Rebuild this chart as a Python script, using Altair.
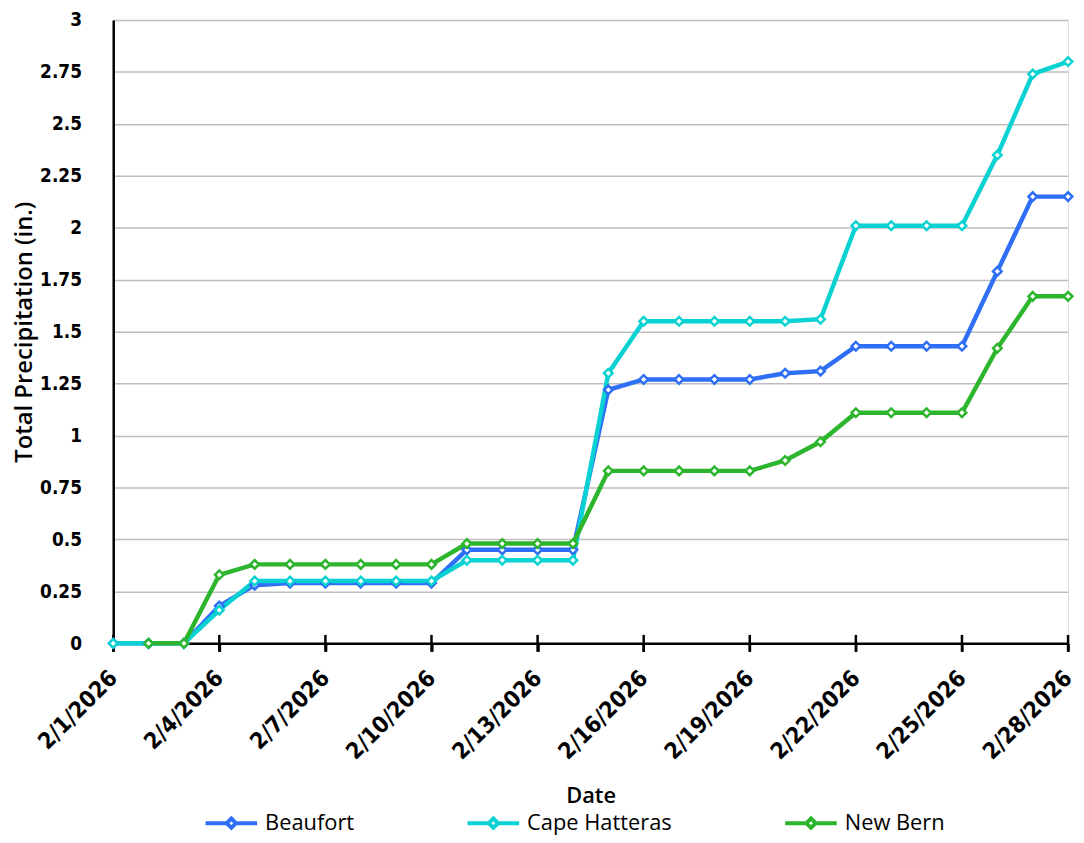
import altair as alt
import pandas as pd

days = list(range(1, 29))
beaufort = [0, 0, 0, 0.18, 0.28, 0.29, 0.29, 0.29, 0.29, 0.29, 0.45, 0.45, 0.45, 0.45,
            1.22, 1.27, 1.27, 1.27, 1.27, 1.30, 1.31, 1.43, 1.43, 1.43, 1.43, 1.79, 2.15, 2.15]
cape_hatteras = [0, 0, 0, 0.16, 0.30, 0.30, 0.30, 0.30, 0.30, 0.30, 0.40, 0.40, 0.40, 0.40,
                 1.30, 1.55, 1.55, 1.55, 1.55, 1.55, 1.56, 2.01, 2.01, 2.01, 2.01, 2.35, 2.74, 2.80]
new_bern = [None, 0, 0, 0.33, 0.38, 0.38, 0.38, 0.38, 0.38, 0.38, 0.48, 0.48, 0.48, 0.48,
            0.83, 0.83, 0.83, 0.83, 0.83, 0.88, 0.97, 1.11, 1.11, 1.11, 1.11, 1.42, 1.67, 1.67]
series_names = ["Beaufort", "Cape Hatteras", "New Bern"]
colors = ["#2F6FF6", "#0AD2D2", "#2DB52D"]
tick_days = [1, 4, 7, 10, 13, 16, 19, 22, 25, 28]

rows = []
for name, vals in zip(series_names, [beaufort, cape_hatteras, new_bern]):
    for d, v in zip(days, vals):
        if v is not None:
            rows.append({"date": f"2026-02-{d:02d}", "station": name, "value": v})
df = pd.DataFrame(rows)
ticks_df = pd.DataFrame({"date": [f"2026-02-{d:02d}" for d in tick_days], "value": [0] * len(tick_days)})

tick_font = "DejaVu Sans Condensed"
title_font = "Open Sans"

x_scale = alt.Scale(type="utc",
                    domain=[alt.DateTime(year=2026, month=2, date=1, utc=True),
                            alt.DateTime(year=2026, month=2, date=28, utc=True)],
                    nice=False)
y_scale = alt.Scale(domain=[0, 3], nice=False)

x = alt.X(
    "date:T",
    title="Date",
    scale=x_scale,
    axis=alt.Axis(
        values=[alt.DateTime(year=2026, month=2, date=d, utc=True) for d in tick_days],
        format="%-m/%-d/%Y",
        labelAngle=-45,
        labelAlign="right",
        labelBaseline="middle",
        labelFont=tick_font,
        labelFontWeight="bold",
        labelFontSize=23,
        labelColor="black",
        labelPadding=23,
        labelOverlap=False,
        labelFlush=False,
        tickSize=8,
        tickColor="black",
        tickWidth=2.5,
        domainColor="black",
        domainWidth=2.5,
        grid=False,
        titleFont=title_font,
        titleFontSize=22,
        titleFontWeight=600,
        titleColor="black",
        titlePadding=22,
    ),
)
y = alt.Y(
    "value:Q",
    title="Total Precipitation (in.)",
    scale=y_scale,
    axis=alt.Axis(
        values=[i * 0.25 for i in range(13)],
        format=".2~f",
        labelFont=tick_font,
        labelFontWeight="bold",
        labelFontSize=19,
        labelColor="black",
        labelPadding=32,
        labelFlush=False,
        tickSize=0,
        domainColor="black",
        domainWidth=2.5,
        grid=True,
        gridColor="#BEBEBE",
        gridWidth=1.5,
        titleFont=title_font,
        titleFontSize=24,
        titleFontWeight=600,
        titleColor="black",
        titlePadding=3,
    ),
)
color = alt.Color(
    "station:N",
    scale=alt.Scale(domain=series_names, range=colors),
    legend=alt.Legend(
        title=None,
        orient="none",
        legendX=91,
        legendY=781,
        direction="horizontal",
        columns=3,
        columnPadding=106,
        symbolType="M-1,0L-0.18,0M0.18,0L1,0M0,-0.18L0.18,0L0,0.18L-0.18,0Z",
        symbolSize=2704,
        symbolStrokeWidth=4,
        symbolFillColor="white",
        symbolOpacity=1,
        labelFont=title_font,
        labelFontSize=22,
        labelColor="black",
        labelOffset=6,
    ),
)

axis_ticks = alt.Chart(ticks_df).mark_tick(
    orient="vertical", size=17, thickness=2.5, color="black", opacity=1
).encode(
    x=alt.X("date:T", scale=x_scale),
    y=alt.Y("value:Q", scale=y_scale),
)
lines = alt.Chart(df).mark_line(strokeWidth=4.5).encode(x=x, y=y, color=color)
points = alt.Chart(df).mark_point(shape="diamond", filled=False, fill="white", fillOpacity=1,
                                  size=75, strokeWidth=2.5, opacity=1).encode(x=x, y=y, color=color)

chart = alt.layer(axis_ticks, lines, points).properties(
    width=962,
    height=628,
    autosize=alt.AutoSizeParams(type="none"),
    padding={"left": 106, "top": 9, "right": 8, "bottom": 190},
).configure_view(stroke=None).configure(background="white")

chart.save("out.html", embed_options={"renderer": "svg", "actions": False})
